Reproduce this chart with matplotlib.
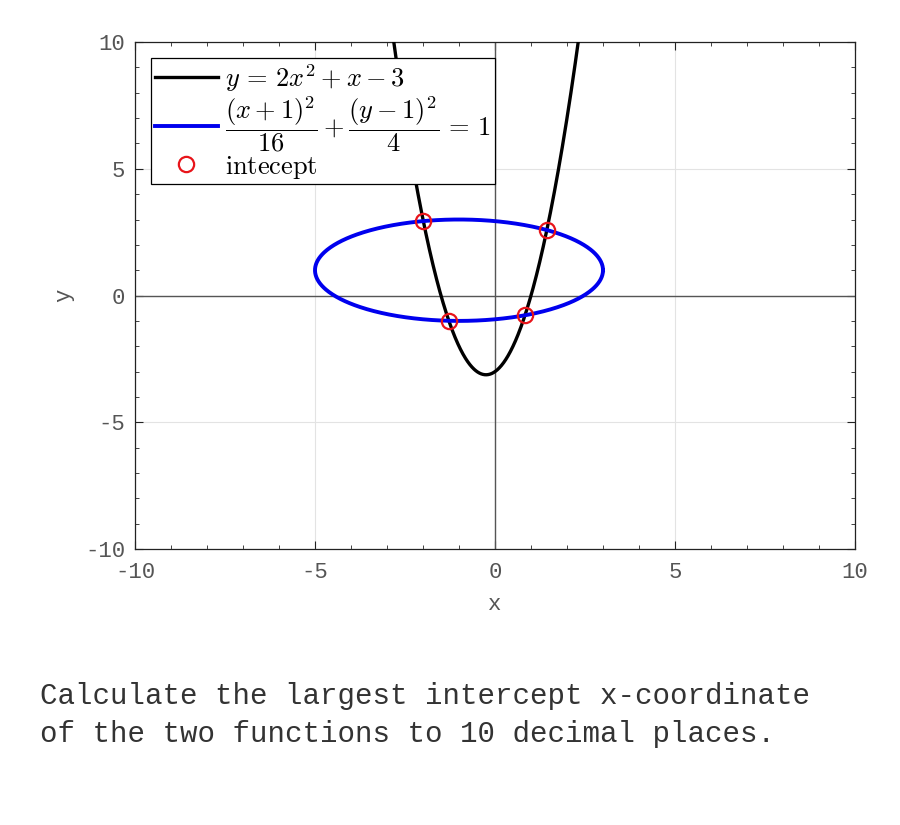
import numpy as np
import matplotlib
matplotlib.use("Agg")
import matplotlib.pyplot as plt
from matplotlib.ticker import MultipleLocator

# parabola coefficients y = a x^2 + b x + c
para_coef = [2, 1, -3]
# ellipse (x-h)^2/A^2 + (y-k)^2/B^2 = 1
ell_center = (-1, 1)
ell_axes = (4, 2)
# intersection points
int_x = [-1.99, 1.44, -1.28, 0.833]
int_y = [2.93, 2.59, -0.99, -0.78]

plt.rcParams["mathtext.fontset"] = "cm"
plt.rcParams["axes.unicode_minus"] = False
mono = "Liberation Mono"
tc = "#555555"

fig = plt.figure(figsize=(9, 8.25), dpi=100)
ax = fig.add_axes([0.15, 0.3345, 0.8, 0.6145])

xs = np.linspace(-10, 10, 2001)
ax.plot(xs, np.polyval(para_coef, xs), color="k", lw=2.4,
        label=r"$y\,=\,2x^2+x-3$", zorder=3)
t = np.linspace(0, 2 * np.pi, 600)
ax.plot(ell_center[0] + ell_axes[0] * np.cos(t),
        ell_center[1] + ell_axes[1] * np.sin(t), color="#0000ee", lw=2.8,
        label=r"$\dfrac{(x+1)^2}{16}+\dfrac{(y-1)^2}{4}\,=\,1$", zorder=3)
ax.plot(int_x, int_y, "o", mfc="none", mec="#e8141a", ms=11, mew=1.6,
        label=r"$\mathrm{intecept}$", zorder=4)

ax.axhline(0, color="#555555", lw=1.0, zorder=2)
ax.axvline(0, color="#555555", lw=1.0, zorder=2)

ax.set_xlim(-10, 10)
ax.set_ylim(-10, 10)
ax.xaxis.set_major_locator(MultipleLocator(5))
ax.yaxis.set_major_locator(MultipleLocator(5))
ax.xaxis.set_minor_locator(MultipleLocator(1))
ax.yaxis.set_minor_locator(MultipleLocator(1))
ax.grid(True, which="major", color="#e3e3e3", lw=0.8, zorder=0)
ax.tick_params(which="both", direction="in", top=True, right=True,
               colors="#222222", labelcolor=tc, labelsize=16)
ax.tick_params(axis="x", pad=9)
ax.tick_params(axis="y", pad=7)
ax.tick_params(which="major", length=6)
ax.tick_params(which="minor", length=3)
for lab in ax.get_xticklabels() + ax.get_yticklabels():
    lab.set_fontfamily(mono)
for s in ax.spines.values():
    s.set_color("#222222")
    s.set_linewidth(0.9)

ax.set_xlabel("x", fontfamily=mono, fontsize=16, color=tc, labelpad=8)
ax.set_ylabel("y", fontfamily=mono, fontsize=16, color=tc, labelpad=8)

leg = ax.legend(loc="upper left", fontsize=19, fancybox=False, framealpha=1,
                edgecolor="k", handlelength=2.4, handletextpad=0.25,
                borderpad=0.15, labelspacing=0.0, borderaxespad=0.6)
leg.get_frame().set_linewidth(0.9)

fig.text(40 / 900, 1 - 715 / 825,
         "Calculate the largest intercept x-coordinate\n"
         "of the two functions to 10 decimal places.",
         fontfamily=mono, fontsize=21, color="#333333", va="center",
         linespacing=1.45)

fig.savefig("out.png", dpi=100)
